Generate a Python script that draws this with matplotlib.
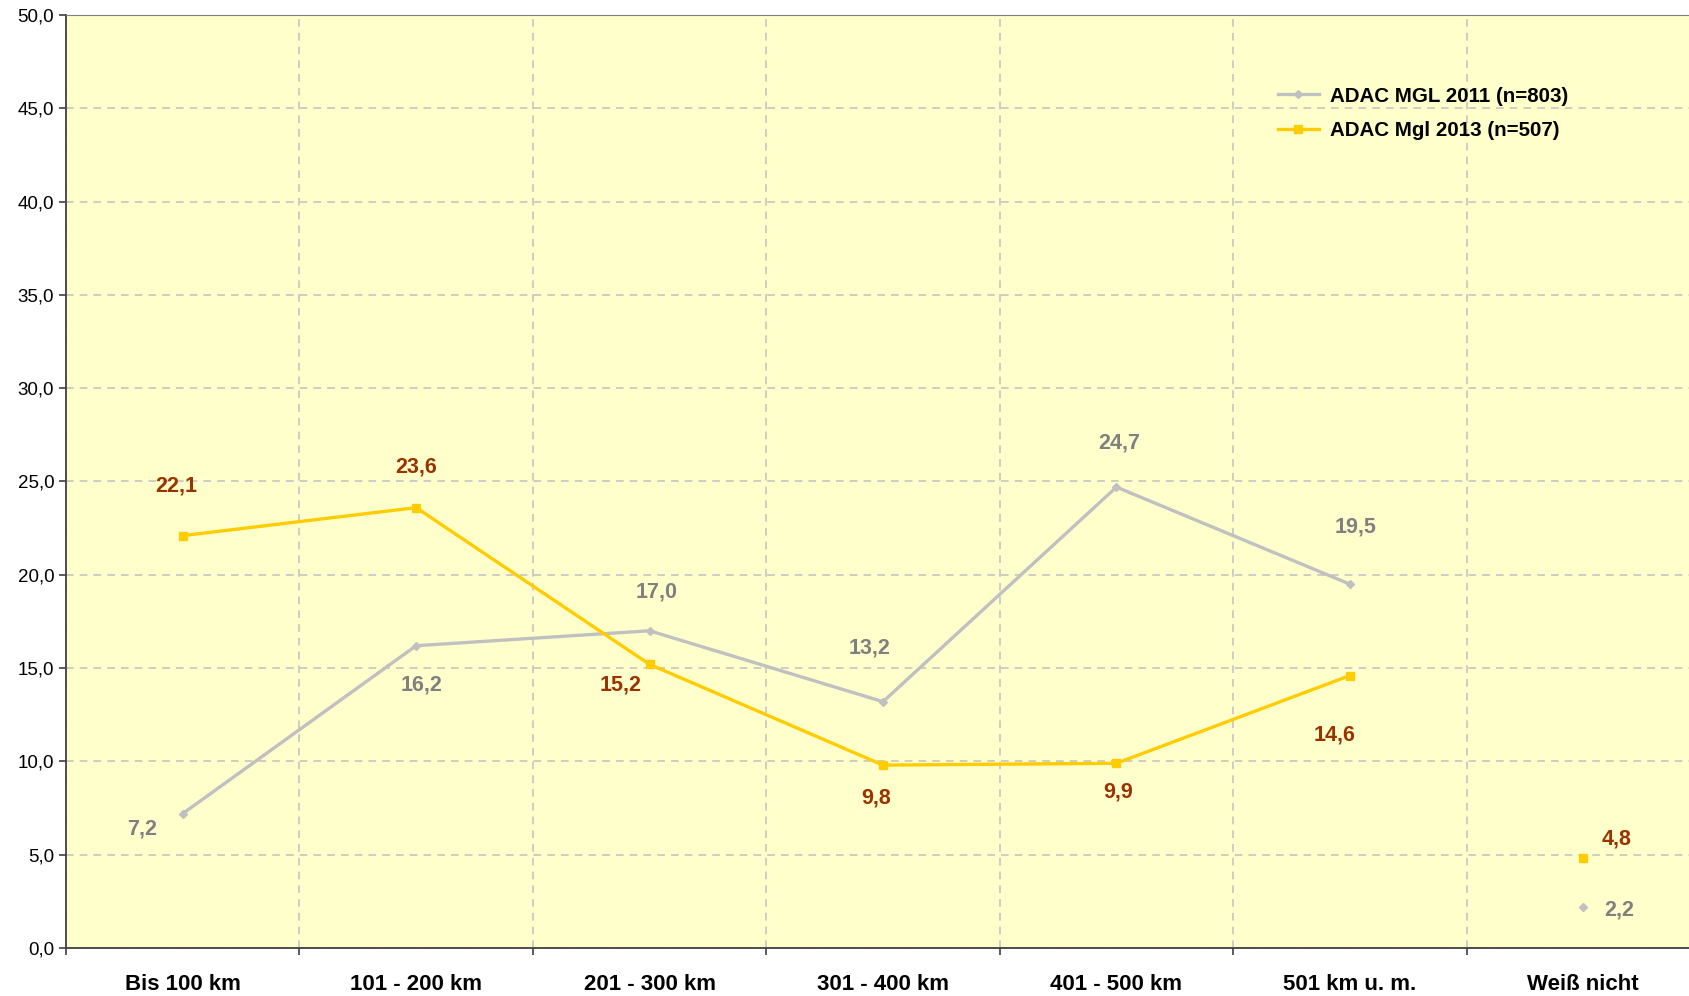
import numpy as np
import matplotlib
matplotlib.use('Agg')
import matplotlib.pyplot as plt
from matplotlib.ticker import FixedLocator, FuncFormatter

plt.rcParams['font.family'] = ['Liberation Sans', 'DejaVu Sans']

# data
categories = ['Bis 100 km', '101 - 200 km', '201 - 300 km', '301 - 400 km',
              '401 - 500 km', '501 km u. m.', 'Weiß nicht']
mgl_2011 = [7.2, 16.2, 17.0, 13.2, 24.7, 19.5, 2.2]
mgl_2013 = [22.1, 23.6, 15.2, 9.8, 9.9, 14.6, 4.8]
label_2011 = 'ADAC MGL 2011 (n=803)'
label_2013 = 'ADAC Mgl 2013 (n=507)'

# label offsets in points (layout only)
off_2011 = [(-29, -11), (4, -28), (5, 28), (-10, 39), (2, 32), (4, 41), (26, -2)]
off_2013 = [(-5, 36), (0, 29), (-21, -15), (-5, -24), (1, -21), (-11, -43), (24, 14)]

gray = '#C0C0C0'
yellow = '#FFCC00'
gray_txt = '#808080'
red_txt = '#993300'

fig = plt.figure(figsize=(16.9, 9.96), dpi=100)
# plot area runs a little past the right edge of the picture, as in the original
ax = fig.add_axes([66/1690, 48/996, 1634/1690, 933/996])
ax.set_facecolor('#FFFFCC')

x = np.arange(len(categories))
n = len(categories) - 1  # last category is not connected

ax.plot(x[:n], mgl_2011[:n], color=gray, lw=2.4, marker='D', ms=4.5, label=label_2011, zorder=3)
ax.plot(x[n:], mgl_2011[n:], color=gray, lw=0, marker='D', ms=4.5, zorder=3)
ax.plot(x[:n], mgl_2013[:n], color=yellow, lw=2.4, marker='s', ms=6, label=label_2013, zorder=4)
ax.plot(x[n:], mgl_2013[n:], color=yellow, lw=0, marker='s', ms=6, zorder=4)

for i in range(len(categories)):
    ax.annotate(f'{mgl_2011[i]:.1f}'.replace('.', ','), (x[i], mgl_2011[i]),
                xytext=off_2011[i], textcoords='offset points', ha='center', va='center',
                fontsize=15.5, fontweight='bold', color=gray_txt)
    ax.annotate(f'{mgl_2013[i]:.1f}'.replace('.', ','), (x[i], mgl_2013[i]),
                xytext=off_2013[i], textcoords='offset points', ha='center', va='center',
                fontsize=15.5, fontweight='bold', color=red_txt)

ax.set_xlim(-0.5, len(categories) - 0.5)
ax.set_ylim(0, 50)
ax.set_yticks(np.arange(0, 51, 5))
ax.yaxis.set_major_formatter(FuncFormatter(lambda v, p: f'{v:.1f}'.replace('.', ',')))
ax.tick_params(axis='y', labelsize=13.5, length=5, width=1.2, color='#404040', direction='out')
ax.grid(axis='y', color='#C0C0C0', ls=(0, (5, 4)), lw=1.1)

ax.set_xticks(x)
ax.set_xticklabels(categories, fontsize=16, fontweight='bold')
ax.tick_params(axis='x', which='major', length=0, pad=19)
ax.xaxis.set_minor_locator(FixedLocator(np.arange(-0.5, len(categories), 1.0)))
ax.tick_params(axis='x', which='minor', length=5, width=1.2, color='#404040', direction='out')
ax.grid(axis='x', which='minor', color='#C0C0C0', ls=(0, (5, 4)), lw=1.1)
ax.set_axisbelow(True)

for s in ['left', 'bottom']:
    ax.spines[s].set_color('#404040')
    ax.spines[s].set_linewidth(1.3)
ax.spines['top'].set_color('#808080')
ax.spines['right'].set_visible(False)

leg = ax.legend(loc='upper left', bbox_to_anchor=(1259/1690, 928/996),
                bbox_transform=fig.transFigure, frameon=False, handlelength=2.0,
                handletextpad=0.55, prop={'size': 14.8, 'weight': 'bold'}, labelspacing=0.75)

fig.savefig('out.png', dpi=100)
